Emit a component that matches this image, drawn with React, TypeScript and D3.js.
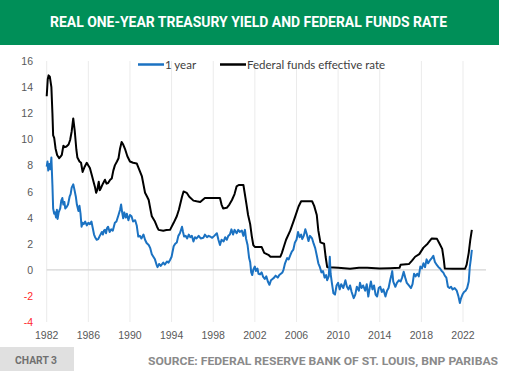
import React from "react";
import * as d3 from "d3";

const titleText = "REAL ONE-YEAR TREASURY YIELD AND FEDERAL FUNDS RATE";
const sourceText = "SOURCE: FEDERAL RESERVE BANK OF ST. LOUIS, BNP PARIBAS";
const chartLabel = "CHART 3";
const seriesNames = ["1 year", "Federal funds effective rate"];
const xTicks = [1982, 1986, 1990, 1994, 1998, 2002, 2006, 2010, 2014, 2018, 2022];
const yTicks = [-4, -2, 0, 2, 4, 6, 8, 10, 12, 14, 16];

const fedFunds: [number, number][] = [
  [1982.0, 13.3], [1982.1, 14.6], [1982.18, 14.9], [1982.3, 14.8], [1982.45, 14.0], [1982.55, 12.0],
  [1982.62, 10.3], [1982.72, 10.1], [1982.85, 9.3], [1983.0, 8.8], [1983.2, 8.55], [1983.35, 8.7],
  [1983.45, 8.8], [1983.6, 9.5], [1983.75, 9.4], [1983.9, 9.45], [1984.1, 9.6], [1984.25, 9.95],
  [1984.4, 10.6], [1984.55, 11.6], [1984.7, 10.6], [1984.85, 9.2], [1984.95, 8.6], [1985.15, 8.3],
  [1985.3, 8.2], [1985.45, 7.5], [1985.65, 7.9], [1985.85, 8.2], [1986.0, 8.0], [1986.15, 7.8],
  [1986.35, 7.2], [1986.5, 6.75], [1986.65, 6.3], [1986.75, 5.9], [1986.85, 6.1], [1987.0, 6.75],
  [1987.1, 6.1], [1987.2, 6.25], [1987.4, 6.6], [1987.6, 6.9], [1987.75, 6.6], [1987.9, 6.65],
  [1988.1, 6.9], [1988.25, 7.0], [1988.4, 7.6], [1988.55, 8.0], [1988.75, 8.3], [1988.9, 8.55],
  [1989.05, 9.3], [1989.2, 9.8], [1989.35, 9.6], [1989.55, 9.2], [1989.75, 8.7], [1990.0, 8.3],
  [1990.3, 8.2], [1990.65, 8.15], [1990.9, 7.65], [1991.15, 7.15], [1991.45, 5.9], [1991.65, 5.6],
  [1991.8, 5.35], [1992.0, 4.5], [1992.1, 4.1], [1992.4, 3.7], [1992.6, 3.3], [1992.75, 3.06],
  [1993.2, 3.0], [1993.5, 3.05], [1993.85, 3.06], [1994.2, 3.6], [1994.5, 4.1], [1994.7, 4.6],
  [1995.0, 5.6], [1995.15, 6.0], [1995.3, 5.95], [1995.45, 5.9], [1995.7, 5.6], [1996.1, 5.3],
  [1996.4, 5.25], [1996.75, 5.2], [1997.2, 5.5], [1997.6, 5.5], [1998.0, 5.5], [1998.65, 5.5],
  [1998.8, 5.0], [1998.95, 4.7], [1999.3, 4.75], [1999.55, 5.0], [1999.8, 5.35], [2000.05, 5.8],
  [2000.25, 6.4], [2000.45, 6.5], [2000.9, 6.5], [2001.0, 6.0], [2001.2, 5.0], [2001.35, 4.2],
  [2001.55, 3.5], [2001.7, 2.6], [2001.85, 1.9], [2002.0, 1.75], [2002.65, 1.75], [2002.9, 1.3],
  [2003.3, 1.15], [2003.5, 1.0], [2004.45, 1.0], [2004.6, 1.3], [2004.8, 1.8], [2005.0, 2.3],
  [2005.4, 3.0], [2005.8, 3.9], [2006.2, 4.85], [2006.45, 5.25], [2007.5, 5.25], [2007.7, 4.9],
  [2007.95, 4.2], [2008.1, 3.0], [2008.3, 2.1], [2008.65, 2.0], [2008.8, 1.0], [2008.95, 0.2],
  [2009.55, 0.18], [2010.0, 0.15], [2011.15, 0.08], [2012.0, 0.15], [2012.8, 0.15], [2014.0, 0.1],
  [2015.0, 0.12], [2015.9, 0.15], [2016.0, 0.38], [2016.8, 0.44], [2017.1, 0.7], [2017.4, 1.0],
  [2017.8, 1.2], [2018.2, 1.7], [2018.6, 2.0], [2019.0, 2.4], [2019.5, 2.37], [2019.75, 2.0],
  [2020.0, 1.6], [2020.15, 0.8], [2020.25, 0.1], [2021.0, 0.08], [2022.2, 0.08], [2022.35, 0.4],
  [2022.55, 1.3], [2022.7, 2.3], [2022.85, 3.06],
];

const oneYear: [number, number][] = [
  [1982.0, 7.9], [1982.08, 8.3], [1982.15, 7.6], [1982.25, 8.1], [1982.35, 7.7], [1982.45, 8.6],
  [1982.55, 6.5], [1982.62, 4.7], [1982.72, 4.3], [1982.8, 4.4], [1982.9, 4.0], [1982.98, 4.6],
  [1983.05, 3.9], [1983.15, 4.4], [1983.3, 4.7], [1983.4, 5.3], [1983.5, 5.5], [1983.6, 5.0],
  [1983.7, 5.2], [1983.78, 4.7], [1983.9, 4.8], [1984.05, 5.0], [1984.2, 5.6], [1984.3, 5.8],
  [1984.4, 6.3], [1984.55, 6.55], [1984.65, 6.2], [1984.8, 5.6], [1984.9, 5.0], [1985.05, 4.5],
  [1985.15, 4.9], [1985.25, 4.3], [1985.35, 3.3], [1985.45, 3.6], [1985.55, 3.5], [1985.7, 3.7],
  [1985.85, 3.4], [1986.0, 3.6], [1986.15, 3.5], [1986.3, 3.7], [1986.4, 3.3], [1986.55, 2.7],
  [1986.65, 2.5], [1986.8, 2.3], [1986.95, 2.35], [1987.1, 2.6], [1987.3, 2.9], [1987.4, 2.7],
  [1987.5, 3.0], [1987.6, 3.06], [1987.7, 2.8], [1987.8, 3.2], [1987.9, 3.3], [1988.05, 2.9],
  [1988.2, 3.1], [1988.35, 3.0], [1988.55, 3.6], [1988.7, 3.7], [1988.9, 4.2], [1989.05, 4.6],
  [1989.15, 5.0], [1989.25, 4.4], [1989.35, 3.95], [1989.45, 4.4], [1989.6, 4.0], [1989.7, 4.3],
  [1989.85, 3.8], [1990.0, 4.2], [1990.15, 4.1], [1990.3, 3.7], [1990.5, 3.8], [1990.65, 3.4],
  [1990.8, 2.55], [1990.95, 2.6], [1991.1, 2.4], [1991.3, 2.7], [1991.45, 2.3], [1991.6, 2.05],
  [1991.8, 1.9], [1991.95, 1.66], [1992.1, 1.2], [1992.25, 1.0], [1992.4, 0.8], [1992.55, 0.4],
  [1992.65, 0.2], [1992.8, 0.45], [1992.95, 0.3], [1993.05, 0.4], [1993.2, 0.55], [1993.35, 0.4],
  [1993.55, 0.64], [1993.7, 0.55], [1993.85, 0.75], [1994.0, 1.0], [1994.2, 1.8], [1994.35, 2.0],
  [1994.5, 2.1], [1994.65, 2.6], [1994.8, 2.8], [1995.0, 3.3], [1995.1, 2.9], [1995.2, 2.55],
  [1995.35, 2.6], [1995.5, 2.4], [1995.65, 2.7], [1995.8, 2.5], [1995.95, 2.6], [1996.1, 2.17],
  [1996.25, 2.5], [1996.4, 2.4], [1996.6, 2.6], [1996.8, 2.4], [1997.05, 2.45], [1997.2, 2.7],
  [1997.4, 2.5], [1997.55, 2.6], [1997.7, 2.55], [1997.9, 2.45], [1998.1, 2.6], [1998.35, 2.8],
  [1998.5, 2.3], [1998.65, 1.9], [1998.8, 2.3], [1999.0, 2.17], [1999.15, 2.5], [1999.3, 2.3],
  [1999.45, 2.6], [1999.6, 2.7], [1999.75, 3.1], [1999.9, 2.7], [2000.05, 3.06], [2000.25, 2.8],
  [2000.4, 3.06], [2000.55, 2.9], [2000.75, 3.0], [2000.9, 2.6], [2001.05, 3.06], [2001.15, 2.4],
  [2001.3, 1.9], [2001.45, 0.9], [2001.55, 0.6], [2001.65, -0.2], [2001.75, -0.4], [2001.85, 0.0],
  [2002.0, 0.25], [2002.1, -0.1], [2002.25, 0.1], [2002.35, -0.3], [2002.5, -0.35], [2002.65, -0.2],
  [2002.8, -0.55], [2002.95, -0.7], [2003.1, -0.5], [2003.25, -0.9], [2003.4, -1.15], [2003.55, -0.8],
  [2003.7, -0.7], [2003.85, -0.6], [2004.0, -0.45], [2004.2, -0.6], [2004.35, -0.4], [2004.5, -0.3],
  [2004.65, -0.2], [2004.75, 0.0], [2004.9, 0.5], [2005.1, 0.9], [2005.25, 0.8], [2005.4, 1.1],
  [2005.55, 1.4], [2005.7, 1.55], [2005.85, 2.1], [2006.0, 2.3], [2006.15, 2.9], [2006.3, 2.5],
  [2006.45, 2.7], [2006.55, 2.35], [2006.7, 2.6], [2006.85, 3.1], [2007.0, 2.7], [2007.15, 2.2],
  [2007.3, 2.6], [2007.5, 2.4], [2007.65, 2.0], [2007.8, 1.66], [2007.95, 1.1], [2008.1, 0.5],
  [2008.25, 0.2], [2008.4, -0.2], [2008.55, -0.1], [2008.7, -0.6], [2008.85, -0.4], [2008.95, -0.8],
  [2009.1, -0.5], [2009.2, 1.0], [2009.28, -0.3], [2009.4, -1.0], [2009.55, -1.8], [2009.7, -1.9],
  [2009.85, -1.2], [2010.0, -1.0], [2010.15, -1.5], [2010.3, -1.1], [2010.5, -1.4], [2010.7, -0.8],
  [2010.85, -1.3], [2011.0, -1.5], [2011.15, -1.2], [2011.3, -1.7], [2011.5, -2.17], [2011.65, -1.9],
  [2011.8, -1.3], [2012.0, -1.6], [2012.1, -1.0], [2012.25, -1.4], [2012.4, -1.2], [2012.6, -1.6],
  [2012.75, -1.1], [2012.9, -2.05], [2013.05, -1.3], [2013.15, -0.9], [2013.3, -1.5], [2013.45, -1.2],
  [2013.6, -1.9], [2013.75, -2.05], [2013.9, -1.4], [2014.05, -1.3], [2014.2, -1.7], [2014.35, -1.5],
  [2014.55, -2.05], [2014.7, -1.6], [2014.85, -1.4], [2015.0, -0.8], [2015.12, -0.4], [2015.2, -0.1],
  [2015.3, -0.9], [2015.5, -1.3], [2015.65, -1.0], [2015.85, -0.8], [2016.0, -0.9], [2016.15, -0.6],
  [2016.3, -0.15], [2016.45, -0.6], [2016.6, -1.0], [2016.8, -1.2], [2017.0, -1.4], [2017.15, -1.1],
  [2017.3, -0.3], [2017.45, -0.5], [2017.6, -0.3], [2017.75, -0.5], [2017.9, 0.25], [2018.05, 0.1],
  [2018.2, 0.5], [2018.35, 0.2], [2018.5, 0.8], [2018.65, 0.5], [2018.8, 0.7], [2019.0, 0.9],
  [2019.15, 1.07], [2019.3, 0.6], [2019.5, 0.35], [2019.65, 0.2], [2019.8, 0.1], [2019.95, -0.1],
  [2020.1, -0.2], [2020.25, -0.45], [2020.4, -0.6], [2020.55, -1.3], [2020.7, -1.4], [2020.85, -1.3],
  [2021.0, -1.5], [2021.2, -1.4], [2021.4, -1.6], [2021.55, -2.0], [2021.7, -2.55], [2021.8, -2.2],
  [2021.95, -1.9], [2022.1, -1.7], [2022.25, -1.6], [2022.4, -1.4], [2022.55, -0.9], [2022.65, 0.2],
  [2022.75, 0.8], [2022.85, 1.53],
];

const BLUE = "#1b72c2";
const BLACK = "#000000";

export default function App() {
  const W = 505;
  const H = 382;
  const x = d3.scaleLinear().domain([1982, 2022]).range([46.7, 463]);
  const y = d3.scaleLinear().domain([-4, 16]).range([322, 61]);
  const line = d3
    .line<[number, number]>()
    .x((d) => x(d[0]))
    .y((d) => y(d[1]))
    .curve(d3.curveLinear);

  const tickFont = "'Liberation Sans', Arial, sans-serif";
  const condFont = "Roboto, 'Liberation Sans', sans-serif";

  return (
    <svg
      width={W}
      height={H}
      style={{ position: "absolute", left: 0, top: 0, display: "block" }}
    >
      <rect x={0} y={0} width={W} height={H} fill="#ffffff" />
      <rect x={0} y={0} width={499} height={45} fill="#008f58" />
      <text
        x={248.5}
        y={27}
        textAnchor="middle"
        fill="#ffffff"
        fontFamily={condFont}
        fontWeight={700}
        fontSize={15}
        textLength={397}
        lengthAdjust="spacingAndGlyphs"
      >
        {titleText}
      </text>

      {xTicks.map((t) => (
        <line
          key={"g" + t}
          x1={x(t)}
          x2={x(t)}
          y1={y(16)}
          y2={y(-4)}
          stroke="#ebebeb"
          strokeWidth={1}
        />
      ))}
      <line x1={x(1982)} x2={486} y1={y(0)} y2={y(0)} stroke="#d4d4d4" strokeWidth={1.2} />

      {yTicks.map((t) => (
        <text
          key={"y" + t}
          x={33}
          y={y(t) + 4}
          textAnchor="end"
          fontFamily={tickFont}
          fontSize={10.5}
          fill={t < 0 ? "#ff2b2b" : "#595959"}
        >
          {t}
        </text>
      ))}
      {xTicks.map((t) => (
        <text
          key={"x" + t}
          x={x(t)}
          y={339}
          textAnchor="middle"
          fontFamily={tickFont}
          fontSize={10.5}
          fill="#595959"
        >
          {t}
        </text>
      ))}

      <path d={line(fedFunds) || ""} fill="none" stroke={BLACK} strokeWidth={2} strokeLinejoin="round" />
      <path d={line(oneYear) || ""} fill="none" stroke={BLUE} strokeWidth={2} strokeLinejoin="round" />

      <line x1={138} x2={164} y1={64.5} y2={64.5} stroke={BLUE} strokeWidth={2.5} />
      <text x={165} y={68.5} fontFamily="Lato, sans-serif" fontSize={11.5} fill="#404040">
        {seriesNames[0]}
      </text>
      <line x1={220} x2={246} y1={64.5} y2={64.5} stroke={BLACK} strokeWidth={2.5} />
      <text x={247} y={68.5} fontFamily="Lato, sans-serif" fontSize={11.5} fill="#404040">
        {seriesNames[1]}
      </text>

      <rect x={0} y={347} width={74} height={24} fill="#e0e0e0" />
      <text
        x={36}
        y={363.5}
        textAnchor="middle"
        fontFamily={condFont}
        fontWeight={700}
        fontSize={11.5}
        fill="#707070"
        textLength={42}
        lengthAdjust="spacingAndGlyphs"
      >
        {chartLabel}
      </text>
      <text
        x={148}
        y={364.5}
        textAnchor="start"
        fontFamily={condFont}
        fontWeight={700}
        fontSize={11.5}
        fill="#8a8a8a"
        textLength={350}
        lengthAdjust="spacingAndGlyphs"
        transform="translate(0,0)"
      >
        {sourceText}
      </text>
    </svg>
  );
}
